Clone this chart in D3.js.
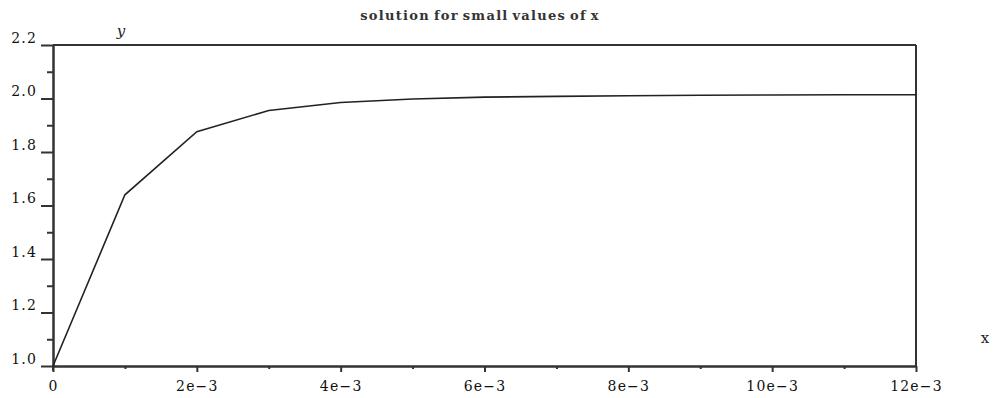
<!DOCTYPE html>
<html>
<head>
<meta charset="utf-8">
<script src="https://cdn.jsdelivr.net/npm/d3@7"></script>
<style>
  html, body { margin: 0; padding: 0; background: #fff; }
  svg { display: block; }
  .tick text { font-family: "DejaVu Serif", serif; font-size: 14px; fill: #111; letter-spacing: 1.2px; }
</style>
</head>
<body>
<svg id="chart" width="993" height="398"></svg>
<script>
// Solution y(x) sampled at x = 0, 1e-3, ..., 12e-3
const xValues = [0, 0.001, 0.002, 0.003, 0.004, 0.005, 0.006, 0.007, 0.008, 0.009, 0.010, 0.011, 0.012];
const yValues = [1.0, 1.64, 1.876, 1.955, 1.985, 1.998, 2.005, 2.008, 2.010, 2.012, 2.013, 2.014, 2.014];

const xMajorTicks = [0, 0.002, 0.004, 0.006, 0.008, 0.010, 0.012];
const xMinorTicks = [0.001, 0.003, 0.005, 0.007, 0.009, 0.011];
const xTickLabels = ["0", "2e\u22123", "4e\u22123", "6e\u22123", "8e\u22123", "10e\u22123", "12e\u22123"];
const yMajorTicks = [1.0, 1.2, 1.4, 1.6, 1.8, 2.0, 2.2];
const yMinorTicks = [1.1, 1.3, 1.5, 1.7, 1.9, 2.1];

const titleText = "solution for small values of x";
const xLabel = "x";
const yLabel = "y";

const svg = d3.select("#chart");
const m = { left: 53, right: 916, top: 45, bottom: 366 };
const axisColor = "#333";

const x = d3.scaleLinear().domain([0, 0.012]).range([m.left, m.right]);
const y = d3.scaleLinear().domain([1.0, 2.2]).range([m.bottom, m.top]);

// frame: top and right edges
svg.append("line").attr("x1", m.left).attr("x2", m.right).attr("y1", m.top).attr("y2", m.top)
  .attr("stroke", axisColor).attr("stroke-width", 2);
svg.append("line").attr("x1", m.right).attr("x2", m.right).attr("y1", m.top).attr("y2", m.bottom)
  .attr("stroke", axisColor).attr("stroke-width", 2);

// x axis
const xAxis = svg.append("g").attr("transform", `translate(0,${m.bottom})`)
  .call(d3.axisBottom(x).tickValues(xMajorTicks).tickSize(6).tickSizeOuter(0)
    .tickFormat((d, i) => xTickLabels[i]).tickPadding(9));
svg.append("g").attr("transform", `translate(0,${m.bottom})`)
  .call(d3.axisBottom(x).tickValues(xMinorTicks).tickSize(3).tickSizeOuter(0).tickFormat(""));

// y axis
const yAxis = svg.append("g").attr("transform", `translate(${m.left},0)`)
  .call(d3.axisLeft(y).tickValues(yMajorTicks).tickSize(12).tickSizeOuter(0)
    .tickFormat(d3.format(".1f")).tickPadding(4));
svg.append("g").attr("transform", `translate(${m.left},0)`)
  .call(d3.axisLeft(y).tickValues(yMinorTicks).tickSize(6).tickSizeOuter(0).tickFormat(""));

svg.selectAll(".domain, .tick line").attr("stroke", axisColor).attr("stroke-width", 2);
// y labels sit just above their tick
yAxis.selectAll(".tick text").attr("dy", "-3");

// y axis line extends slightly below the x axis
svg.append("line").attr("x1", m.left).attr("x2", m.left).attr("y1", m.bottom).attr("y2", m.bottom + 5)
  .attr("stroke", axisColor).attr("stroke-width", 2);

// solution curve
const line = d3.line().x((d, i) => x(xValues[i])).y(d => y(d));
svg.append("path").datum(yValues)
  .attr("d", line).attr("fill", "none")
  .attr("stroke", "#222").attr("stroke-width", 1.6);

// title and axis names
svg.append("text").attr("x", 480).attr("y", 20).attr("text-anchor", "middle")
  .attr("font-family", "DejaVu Serif, serif").attr("font-size", 13).attr("font-weight", 600)
  .attr("fill", "#333").attr("word-spacing", -2).attr("letter-spacing", 1.3)
  .text(titleText);
svg.append("text").attr("x", 121).attr("y", 36).attr("text-anchor", "middle")
  .attr("font-family", "DejaVu Serif, serif").attr("font-size", 15).attr("font-style", "italic")
  .attr("fill", "#222").text(yLabel);
svg.append("text").attr("x", 985).attr("y", 343).attr("text-anchor", "middle")
  .attr("font-family", "DejaVu Serif, serif").attr("font-size", 15)
  .attr("fill", "#222").text(xLabel);
</script>
</body>
</html>
